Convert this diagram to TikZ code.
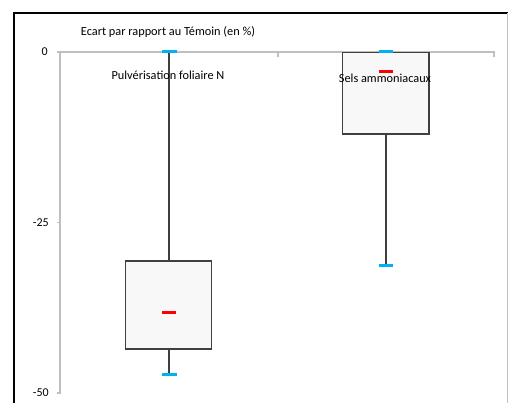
\documentclass[tikz,border=0pt]{standalone}
\usepackage{fontspec}
\setmainfont{Carlito}
\definecolor{axisgray}{HTML}{BFBFBF}
\definecolor{boxedge}{HTML}{404040}
\definecolor{boxfill}{HTML}{F8F8F8}
\definecolor{capblue}{HTML}{00B0F0}
\definecolor{medred}{HTML}{FF0000}
\tikzset{
  axisline/.style={draw=axisgray, line width=1.4pt},
  boxshape/.style={draw=boxedge, fill=boxfill, line width=1.4pt},
  whisker/.style={draw=boxedge, line width=1.4pt},
  capline/.style={draw=capblue, line width=3pt},
  medline/.style={draw=medred, line width=3pt},
  lbl/.style={font=\fontsize{12.3}{14}\selectfont, inner sep=0pt},
  ticklbl/.style={font=\fontsize{12}{14}\selectfont, inner sep=0pt, anchor=east}
}
\begin{document}
\begin{tikzpicture}[x=1pt,y=-1pt]
\useasboundingbox (0,0) rectangle (508,403);
\fill[white] (0,0) rectangle (508,403);
% frame
\draw[black, line width=1.4pt] (14,410) -- (14,13) -- (510,13);
\draw[axisgray, line width=1pt] (507,13) -- (507,410);
% axes
\draw[axisline] (57,52) -- (494,52) -- (494,57);
\draw[axisline] (278,52) -- (278,57);
\draw[axisline] (60,52) -- (60,393) -- (57,393);
\draw[axisline] (57,222.5) -- (60,222.5);
\node[ticklbl] (t0) at (48,52) {0};
\node[ticklbl] (t25) at (49,222.5) {-25};
\node[ticklbl] (t50) at (49,393) {-50};
\node[lbl] (title) at (168,32) {Ecart par rapport au Témoin (en \%)};
% box 1
\draw[whisker] (169,52) -- (169,261);
\draw[whisker] (169,349) -- (169,374);
\draw[boxshape] (125.5,261) rectangle (211.5,349);
\draw[medline] (162,312) -- (176,312);
\draw[capline] (162,374) -- (177,374);
\draw[capline] (162,52) -- (177,52);
\node[lbl] (l1) at (168,75) {Pulvérisation foliaire N};
% box 2
\draw[whisker] (386,134) -- (386,265);
\draw[boxshape] (342.5,52.5) rectangle (429,134);
\draw[capline] (378.5,265) -- (393,265);
\draw[capline] (378.5,52) -- (393,52);
\draw[medline] (379,71.5) -- (393,71.5);
\node[lbl] (l2) at (385,78) {Sels ammoniacaux};
\end{tikzpicture}
\end{document}
